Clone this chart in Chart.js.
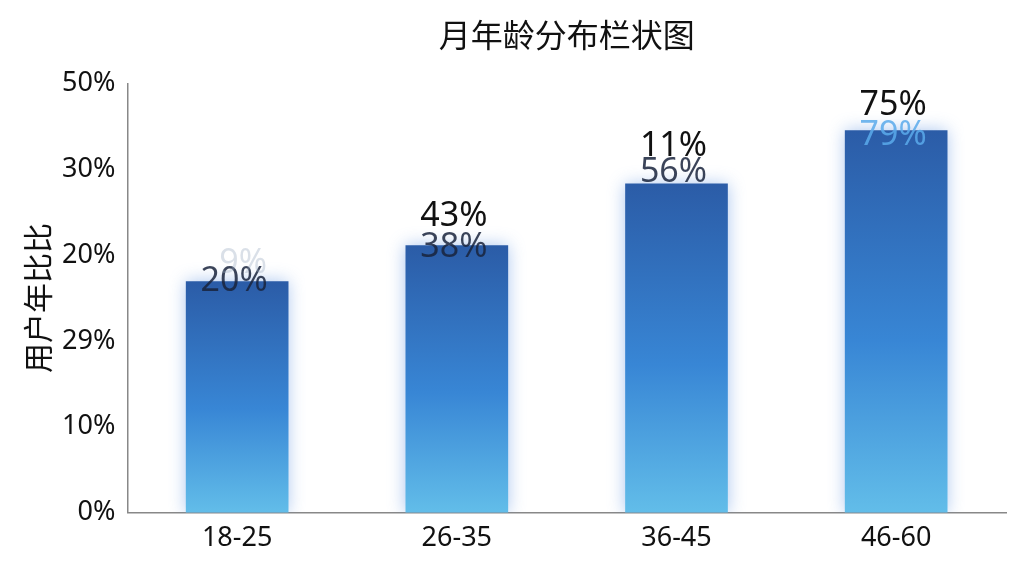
<!DOCTYPE html>
<html>
<head>
<meta charset="utf-8">
<script src="https://cdn.jsdelivr.net/npm/chart.js@4/dist/chart.umd.min.js"></script>
<style>
  html, body { margin: 0; padding: 0; background: #fff; }
  #wrap { width: 1024px; height: 576px; }
</style>
</head>
<body>
<div id="wrap"><canvas id="myChart" width="1024" height="576"></canvas></div>
<script>
const ageGroups = ["18-25", "26-35", "36-45", "46-60"];
const shareValues = [26.9, 31.1, 38.3, 44.5];
const tickLabels = ["0%", "10%", "29%", "20%", "30%", "50%"];
const upperLabels = ["9%", "43%", "11%", "75%"];
const lowerLabels = ["20%", "38%", "56%", "79%"];

const fontLatin = "'Noto Sans', 'Open Sans', sans-serif";
const fontCjk = "'Noto Sans CJK SC', 'Noto Sans', sans-serif";

// gradient from top of each bar down to the axis
function barGradient(context) {
    const chart = context.chart;
    const area = chart.chartArea;
    if (!area || context.raw === undefined) return "#3a86d6";
    const top = chart.scales.y.getPixelForValue(context.raw);
    const g = chart.ctx.createLinearGradient(0, top, 0, area.bottom);
    g.addColorStop(0, "#2b5ca7");
    g.addColorStop(0.55, "#3886d5");
    g.addColorStop(1, "#62bde9");
    return g;
}

// soft glow round the bars
const glowPlugin = {
    id: "glow",
    beforeDatasetsDraw(chart) {
        chart.ctx.save();
        chart.ctx.shadowColor = "rgba(70, 130, 220, 0.45)";
        chart.ctx.shadowBlur = 16;
    },
    afterDatasetsDraw(chart) {
        chart.ctx.restore();
    }
};

// two stacked labels on every bar, nudged the way the picture has them
const lowerShift = [0, 2, -12, 5];
const upperShift = [-18, -29, -38, -25];
const labelPlugin = {
    id: "barLabels",
    afterDatasetsDraw(chart) {
        const ctx = chart.ctx;
        const bars = chart.getDatasetMeta(0).data;
        ctx.save();
        ctx.textAlign = "center";
        ctx.textBaseline = "middle";
        ctx.font = "34px " + fontLatin;
        bars.forEach((bar, i) => {
            ctx.fillStyle = i === 3 ? "rgba(90, 170, 235, 0.85)" : "rgba(25, 35, 60, 0.85)";
            ctx.fillText(lowerLabels[i], bar.x - 3, bar.y + lowerShift[i]);
            ctx.fillStyle = i === 0 ? "rgba(150, 165, 190, 0.35)" : "#111";
            ctx.fillText(upperLabels[i], bar.x + (i === 0 ? 6 : -3), bar.y + upperShift[i]);
        });
        ctx.restore();
    }
};

new Chart(document.getElementById("myChart"), {
    type: "bar",
    data: {
        labels: ageGroups,
        datasets: [{
            data: shareValues,
            backgroundColor: barGradient,
            borderWidth: 0,
            barThickness: 102,
        }]
    },
    options: {
        responsive: false,
        animation: false,
        layout: { padding: { left: 16, right: 18, top: 10, bottom: 19 } },
        plugins: {
            legend: { display: false },
            tooltip: { enabled: false },
            title: {
                display: true,
                text: "月年龄分布栏状图",
                fullSize: false,
                color: "#111",
                font: { family: fontCjk, size: 32, weight: "normal" },
                padding: { top: 6, bottom: 29 }
            }
        },
        scales: {
            x: {
                grid: { display: false, drawTicks: true, tickLength: 8, color: "#888" },
                border: { color: "#888", width: 1.5 },
                ticks: { color: "#111", font: { family: fontLatin, size: 27 }, padding: 2 }
            },
            y: {
                min: 0,
                max: 50,
                grid: { display: false, drawOnChartArea: false, tickLength: 8, color: "#888" },
                border: { color: "#888", width: 1.5 },
                ticks: {
                    stepSize: 10,
                    color: "#111",
                    font: { family: fontLatin, size: 27 },
                    padding: 4,
                    callback: (value, index) => tickLabels[index]
                },
                title: {
                    display: true,
                    text: "用户年比比",
                    color: "#111",
                    font: { family: fontCjk, size: 30 },
                    padding: { bottom: 2 }
                }
            }
        }
    },
    plugins: [glowPlugin, labelPlugin]
});
</script>
</body>
</html>
